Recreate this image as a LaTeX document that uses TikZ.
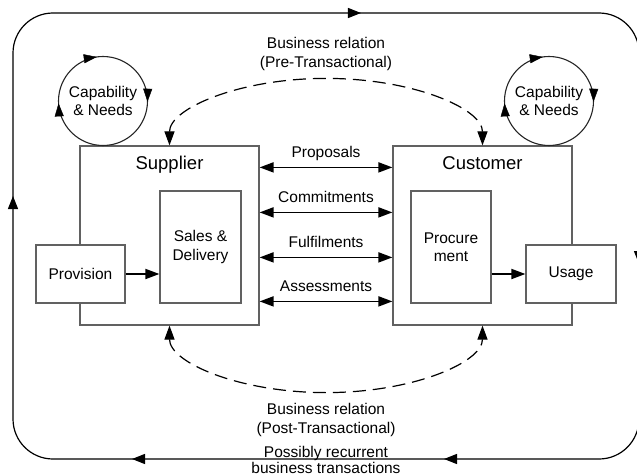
\documentclass[tikz,border=0pt]{standalone}
\usepackage{fontspec}
\setmainfont{Liberation Sans}
\usetikzlibrary{arrows.meta,decorations.markings,calc}
\begin{document}
\begin{tikzpicture}[x=1pt,y=-1pt,
  >={Triangle[length=14pt,width=10pt]},
  lbl/.style={font=\fontsize{15.5}{19}\selectfont, align=center, inner sep=0pt},
  ttl/.style={font=\fontsize{18.5}{22}\selectfont, inner sep=0pt, anchor=base},
  box/.style={draw=black!62, line width=1.2pt, fill=white, inner sep=0pt,
              font=\fontsize{15.5}{18.5}\selectfont, align=center},
  capc/.style={circle, draw=black!85, line width=1.1pt, inner sep=0pt,
               minimum size=89pt, font=\fontsize{15.5}{18}\selectfont, align=center},
  dbl/.style={line width=1.8pt, <->},
  flow/.style={line width=1.8pt, ->},
  rel/.style={line width=1.2pt, dash pattern=on 13pt off 7pt, <->},
  loopline/.style={line width=1.2pt, rounded corners=40pt},
  circarrows/.style={decorate, decoration={markings,
      mark=at position 9.3pt with {\arrow{Triangle[length=13pt,width=9pt]}},
      mark=at position 86.2pt with {\arrow{Triangle[length=13pt,width=9pt]}},
      mark=at position 222.9pt with {\arrow{Triangle[length=13pt,width=9pt]}}}},
  looparrows/.style={postaction={decorate}, decoration={markings,
      mark=at position 64pt with {\arrow{Triangle[length=13pt,width=10pt]}},
      mark=at position 577.8pt with {\arrow{Triangle[length=13pt,width=10pt]}},
      mark=at position 1089.7pt with {\arrow{Triangle[length=13pt,width=10pt]}},
      mark=at position 1462.5pt with {\arrow{Triangle[length=13pt,width=10pt]}},
      mark=at position 1774.5pt with {\arrow{Triangle[length=13pt,width=10pt]}}}}
]
\useasboundingbox (0,0) rectangle (637,476);
\clip (0,0) rectangle (637,476);

% outer loop
\draw[loopline, looparrows] (13,300) -- (13,13) -- (639,13) -- (639,459) -- (13,459) -- cycle;

% main boxes
\node[box, minimum width=179pt, minimum height=179pt] (supplier) at (169.5,235.5) {};
\node[box, minimum width=179pt, minimum height=179pt] (customer) at (482.5,235.5) {};
\node[ttl] (suplab) at ($(supplier.north)+(0,24.5)$) {Supplier};
\node[ttl] (cuslab) at ($(customer.north)+(0,24.5)$) {Customer};

% inner boxes
\node[box, minimum width=81pt, minimum height=112pt] (sales) at (200.5,247) {Sales \&\\Delivery};
\node[box, minimum width=89pt, minimum height=58pt] (prov) at (80.5,274) {Provision};
\node[box, minimum width=80pt, minimum height=112pt] (proc) at (451,247) {Procure\\ment};
\node[box, minimum width=90pt, minimum height=58pt] (usage) at (571,274) {Usage};

\draw[flow] (prov.east) -- (prov.east -| sales.west);
\draw[flow] (proc.east |- usage.west) -- (usage.west);

% capability circles
\node[capc] (capS) at (103,101) {Capability\\\& Needs};
\node[capc] (capC) at (549,101) {Capability\\\& Needs};
\path[circarrows] ($(capS.center)+(-110:44.5)$) arc[start angle=-110, delta angle=360, radius=44.5];
\path[circarrows] ($(capC.center)+(-110:44.5)$) arc[start angle=-110, delta angle=360, radius=44.5];

% exchange arrows
\draw[dbl] ($(supplier.north east)+(0,22)$) -- ($(customer.north west)+(0,22)$)
  node[lbl, midway, anchor=base, yshift=10pt] (lprop) {Proposals};
\draw[dbl] ($(supplier.north east)+(0,67)$) -- ($(customer.north west)+(0,67)$)
  node[lbl, midway, anchor=base, yshift=10pt] (lcomm) {Commitments};
\draw[dbl] ($(supplier.north east)+(0,112)$) -- ($(customer.north west)+(0,112)$)
  node[lbl, midway, anchor=base, yshift=10pt] (lfulf) {Fulfilments};
\draw[dbl] ($(supplier.north east)+(0,156)$) -- ($(customer.north west)+(0,156)$)
  node[lbl, midway, anchor=base, yshift=10pt] (lass) {Assessments};

% business relations
\draw[rel] (supplier.north) arc[start angle=180, end angle=360, x radius=156.5, y radius=67];
\draw[rel] (supplier.south) arc[start angle=180, end angle=0, x radius=156.5, y radius=67];

\node[lbl] (pre) at (326,54) {Business relation\\(Pre-Transactional)};
\node[lbl] (post) at (326,420) {Business relation\\(Post-Transactional)};
\node[lbl, font=\fontsize{15.5}{16}\selectfont] (recur) at (326,459.5) {Possibly recurrent\\business transactions};
\end{tikzpicture}
\end{document}
